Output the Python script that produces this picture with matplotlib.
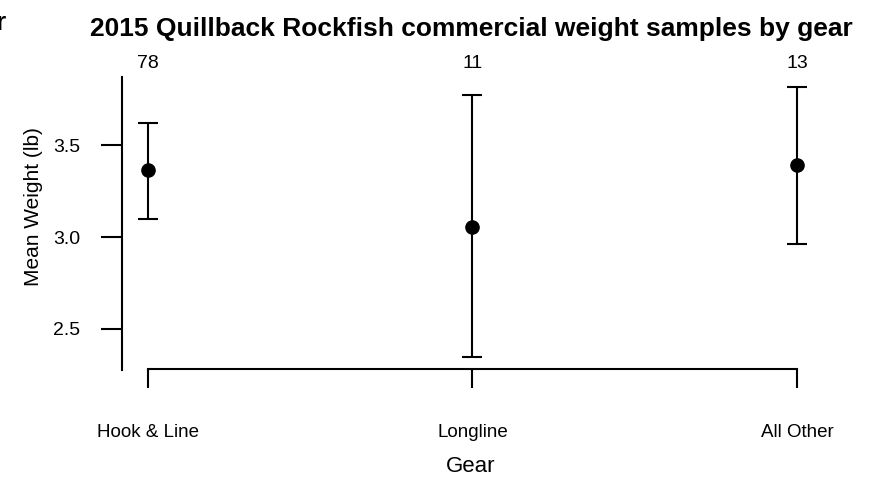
import matplotlib
matplotlib.use("Agg")
import matplotlib.pyplot as plt
import matplotlib.transforms as mtransforms

plt.rcParams["font.family"] = ["Liberation Sans", "DejaVu Sans"]

# Data
gears = ["Hook & Line", "Longline", "All Other"]
mean_weight = [3.365, 3.055, 3.39]
upper = [3.62, 3.77, 3.815]
lower = [3.10, 2.345, 2.96]
n_samples = [78, 11, 13]
y_ticks = [2.5, 3.0, 3.5]

W, H = 877, 483
fig = plt.figure(figsize=(W / 100, H / 100), dpi=100)

# axes box in pixel terms (left, bottom, right, top measured from top-left)
left_px, right_px, top_px, bot_px = 122, 822, 77, 370
ax = fig.add_axes([left_px / W, 1 - bot_px / H,
                   (right_px - left_px) / W, (bot_px - top_px) / H])

x = list(range(1, len(gears) + 1))
yerr = [[m - lo for m, lo in zip(mean_weight, lower)],
        [up - m for m, up in zip(mean_weight, upper)]]
ax.errorbar(x, mean_weight, yerr=yerr, fmt="o", color="black",
            markersize=9.5, elinewidth=1.5, capsize=7, capthick=1.5)

ax.set_xlim(0.92, 3.077)
ax.set_ylim(2.277, 3.87)

for s in ["top", "right"]:
    ax.spines[s].set_visible(False)
ax.spines["left"].set_linewidth(1.5)
ax.spines["bottom"].set_linewidth(1.5)
ax.spines["bottom"].set_bounds(1, 3)
ax.spines["bottom"].set_position(("outward", -1))

ax.set_xticks(x)
ax.set_xticklabels(gears)
ax.set_yticks(y_ticks)
ax.set_yticklabels([f"{v:.1f}" for v in y_ticks])
ax.tick_params(axis="x", length=14, width=1.5, pad=26, labelsize=13.5)
ax.tick_params(axis="y", length=15, width=1.5, pad=15, labelsize=14)

# sample sizes above each gear
trans = mtransforms.blended_transform_factory(ax.transData, fig.transFigure)
for xi, n in zip(x, n_samples):
    ax.text(xi, 1 - 63 / H, str(n), transform=trans, ha="center",
            va="center", fontsize=14, clip_on=False)

fig.text(471 / W, 1 - 29 / H,
         "2015 Quillback Rockfish commercial weight samples by gear",
         ha="center", va="center", fontsize=19, fontweight="bold")
fig.text(471 / W, 1 - 466 / H, "Gear", ha="center", va="center", fontsize=16)
fig.text(34 / W, 1 - 207 / H, "Mean Weight (lb)", ha="center", va="center",
         rotation=90, fontsize=15)
fig.text(-5 / W, 1 - 23 / H, "r", ha="left", va="center", fontsize=19,
         fontweight="bold")

fig.savefig("out.png", dpi=100)
